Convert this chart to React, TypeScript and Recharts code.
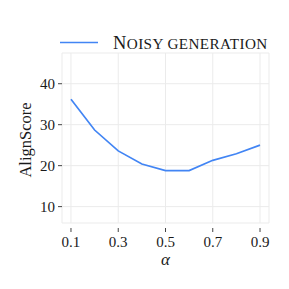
import React from 'react';
import { LineChart, Line, XAxis, YAxis, CartesianGrid } from 'recharts';

const alphas = [0.1, 0.2, 0.3, 0.4, 0.5, 0.6, 0.7, 0.8, 0.9];
const alignScores = [36.2, 28.7, 23.6, 20.4, 18.8, 18.8, 21.3, 22.9, 25.0];
const xTicks = [0.1, 0.3, 0.5, 0.7, 0.9];
const yTicks = [10, 20, 30, 40];
const seriesName = 'Noisy generation';
const xLabel = 'α';
const yLabel = 'AlignScore';

const data = alphas.map((a, i) => ({ alpha: a, score: alignScores[i] }));

const FONT = '"Liberation Serif", "DejaVu Serif", serif';
const LINE_COLOR = '#4285F4';
const TEXT_COLOR = '#1a1a1a';

const XTick = (props: any) => {
  const { x, y, payload } = props;
  return (
    <g>
      <line x1={x} x2={x} y1={y + 5} y2={y + 9} stroke="#444" strokeWidth={1} />
      <text x={x} y={y + 24} textAnchor="middle" fontFamily={FONT} fontSize={15} fill={TEXT_COLOR}>
        {Number(payload.value).toFixed(1)}
      </text>
    </g>
  );
};

const YTitle = (props: any) => {
  const vb = props.viewBox || {};
  const cy = (vb.y ?? 53) + (vb.height ?? 170) / 2 + 2;
  const cx = 31;
  return (
    <text
      x={cx}
      y={cy}
      transform={`rotate(-90, ${cx}, ${cy})`}
      textAnchor="middle"
      fontFamily={FONT}
      fontSize={16.5}
      fill={TEXT_COLOR}
    >
      {yLabel}
    </text>
  );
};

const XTitle = (props: any) => {
  const vb = props.viewBox || {};
  const cx = (vb.x ?? 62) + (vb.width ?? 207) / 2;
  return (
    <text x={cx} y={265} textAnchor="middle" fontFamily={FONT} fontStyle="italic" fontSize={17} fill={TEXT_COLOR}>
      {xLabel}
    </text>
  );
};

// Small caps rendered manually: first letters of words in full size, rest in reduced uppercase
const SmallCaps = ({ text }: { text: string }) => {
  const words = text.split(' ');
  const parts: React.ReactNode[] = [];
  words.forEach((w, wi) => {
    const first = w.charAt(0);
    const rest = w.slice(1).toUpperCase();
    const firstIsUpper = first === first.toUpperCase();
    parts.push(
      <tspan key={`f${wi}`} fontSize={firstIsUpper ? 18.5 : 15.2}>
        {first.toUpperCase()}
      </tspan>
    );
    parts.push(
      <tspan key={`r${wi}`} fontSize={15.2}>
        {rest + (wi < words.length - 1 ? ' ' : '')}
      </tspan>
    );
  });
  return <>{parts}</>;
};

export default function App() {
  return (
    <div style={{ position: 'absolute', left: 0, top: 0, width: 289, height: 289, background: '#fff' }}>
      <LineChart width={289} height={289} data={data} margin={{ top: 53, right: 20, bottom: 36, left: 0 }}>
        <CartesianGrid stroke="#ebebeb" strokeWidth={1} />
        <XAxis
          dataKey="alpha"
          type="number"
          domain={[0.062, 0.938]}
          ticks={xTicks}
          axisLine={false}
          tickLine={false}
          tickSize={0}
          tickMargin={0}
          height={30}
          tick={<XTick />}
          label={<XTitle />}
          allowDataOverflow
        />
        <YAxis
          type="number"
          domain={[6, 47.5]}
          ticks={yTicks}
          axisLine={false}
          tickLine={{ stroke: '#444' }}
          tickSize={4}
          tickMargin={3}
          width={62}
          tick={{ fontFamily: FONT, fontSize: 15, fill: TEXT_COLOR }}
          label={<YTitle />}
          allowDataOverflow
        />
        <Line
          type="linear"
          dataKey="score"
          name={seriesName}
          stroke={LINE_COLOR}
          strokeWidth={1.7}
          dot={false}
          isAnimationActive={false}
        />
      </LineChart>
      <svg width={289} height={60} style={{ position: 'absolute', left: 0, top: 0, pointerEvents: 'none' }}>
        <line x1={60} x2={98} y1={42.5} y2={42.5} stroke={LINE_COLOR} strokeWidth={1.7} />
        <text x={113} y={48.5} fontFamily={FONT} fill={TEXT_COLOR} letterSpacing={0.4}>
          <SmallCaps text={seriesName} />
        </text>
      </svg>
    </div>
  );
}
